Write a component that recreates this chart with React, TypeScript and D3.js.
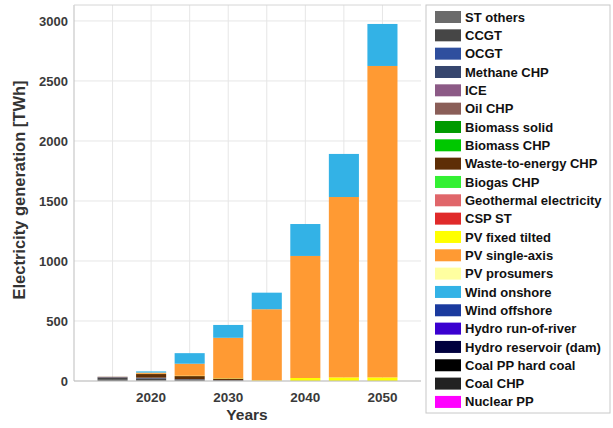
import React from "react";
import * as d3 from "d3";

const years = [2015, 2020, 2025, 2030, 2035, 2040, 2045, 2050];
const xTicks = [2020, 2030, 2040, 2050];
const yTicks = [0, 500, 1000, 1500, 2000, 2500, 3000];

const techNames = [
  "ST others", "CCGT", "OCGT", "Methane CHP", "ICE", "Oil CHP", "Biomass solid",
  "Biomass CHP", "Waste-to-energy CHP", "Biogas CHP", "Geothermal electricity", "CSP ST",
  "PV fixed tilted", "PV single-axis", "PV prosumers", "Wind onshore", "Wind offshore",
  "Hydro run-of-river", "Hydro reservoir (dam)", "Coal PP hard coal", "Coal CHP", "Nuclear PP",
];
const techColors = [
  "#6b6b6b", "#464646", "#2f4f9e", "#36466e", "#8c5a86", "#8a5e58", "#009a00",
  "#00c800", "#5e2e06", "#33f033", "#e0666a", "#e02a2a",
  "#ffff00", "#ff9a33", "#ffffa0", "#33b2e6", "#1a3a9e",
  "#3a00d0", "#00003e", "#000000", "#222222", "#ff00ff",
];

const stOthers = [10, 5, 3, 0, 0, 0, 0, 0];
const ccgt = [15, 15, 10, 5, 0, 0, 0, 0];
const methaneChp = [5, 5, 3, 2, 0, 0, 0, 0];
const oilChp = [3, 3, 0, 0, 0, 0, 0, 0];
const wasteChp = [2, 30, 25, 13, 0, 0, 0, 0];
const pvFixed = [0, 2, 3, 3, 5, 25, 30, 30];
const pvSingle = [0, 10, 100, 337, 593, 1017, 1503, 2595];
const windOnshore = [0, 10, 88, 107, 138, 266, 359, 350];

const zeros = years.map(() => 0);
const seriesValues: Record<string, number[]> = {
  "ST others": stOthers,
  "CCGT": ccgt,
  "Methane CHP": methaneChp,
  "Oil CHP": oilChp,
  "Waste-to-energy CHP": wasteChp,
  "PV fixed tilted": pvFixed,
  "PV single-axis": pvSingle,
  "Wind onshore": windOnshore,
};

const W = 613, H = 428;
const FONT = "'Liberation Sans', Arial, sans-serif";

export default function App() {
  const x = d3.scaleLinear().domain([2010, 2055]).range([74, 421]);
  const y = d3.scaleLinear().domain([0, 3133]).range([381, 5]);
  const barW = (x(2015) - x(2010)) * 0.78;

  const table = years.map((yr, i) => {
    const row: any = { year: yr };
    techNames.forEach((n) => (row[n] = (seriesValues[n] || zeros)[i]));
    return row;
  });
  const stacked = d3.stack<any>().keys(techNames)(table);
  const gridYears = d3.range(2015, 2055, 5);

  const legX = 426, legY = 5, legW = 184, legH = 408;
  const rowH = 18.33;

  return (
    <svg width={W} height={H} style={{ position: "absolute", left: 0, top: 0, background: "#fff" }}>
      <rect x={0} y={0} width={W} height={H} fill="#fff" />
      {/* grid */}
      {gridYears.map((g) => (
        <line key={"gx" + g} x1={x(g)} x2={x(g)} y1={y.range()[1]} y2={y.range()[0]} stroke="#e6e6e6" strokeWidth={1} />
      ))}
      {yTicks.map((t) => (
        <line key={"gy" + t} x1={x(2010)} x2={x(2055)} y1={y(t)} y2={y(t)} stroke="#e6e6e6" strokeWidth={1} />
      ))}
      {/* bars */}
      {stacked.map((s, si) => (
        <g key={s.key} fill={techColors[si]}>
          {s.map((d, i) =>
            d[1] - d[0] > 0 ? (
              <rect key={i} x={x(years[i]) - barW / 2} width={barW} y={y(d[1])} height={y(d[0]) - y(d[1])} />
            ) : null
          )}
        </g>
      ))}
      {/* axes box */}
      <line x1={x(2010)} x2={x(2010)} y1={y.range()[1]} y2={y.range()[0]} stroke="#bdbdbd" />
      <line x1={x(2010)} x2={x(2055)} y1={y(0)} y2={y(0)} stroke="#bdbdbd" />
      <line x1={x(2010)} x2={x(2055)} y1={y.range()[1]} y2={y.range()[1]} stroke="#d6d6d6" />
      {/* y ticks */}
      {yTicks.map((t) => (
        <text key={"ty" + t} x={68} y={y(t)} dy="0.35em" textAnchor="end" fontFamily={FONT} fontSize={13} fontWeight="bold" fill="#3a3a3a">
          {t}
        </text>
      ))}
      {xTicks.map((t) => (
        <text key={"tx" + t} x={x(t)} y={397} dy="0.35em" textAnchor="middle" fontFamily={FONT} fontSize={13.5} fontWeight="bold" fill="#3a3a3a">
          {t}
        </text>
      ))}
      <text x={247} y={415} dy="0.35em" textAnchor="middle" fontFamily={FONT} fontSize={15.5} fontWeight="bold" fill="#333">
        Years
      </text>
      <text transform={`translate(19,${190}) rotate(-90)`} dy="0.35em" textAnchor="middle" fontFamily={FONT} fontSize={16.5} fontWeight="bold" fill="#333">
        Electricity generation [TWh]
      </text>
      {/* legend */}
      <rect x={legX} y={legY} width={legW} height={legH} fill="#fff" stroke="#c8c8c8" />
      {techNames.map((n, i) => (
        <g key={n} transform={`translate(${legX + 9},${17 + i * rowH})`}>
          <rect x={0} y={-6} width={26} height={12} fill={techColors[i]} />
          <text x={30} y={0} dy="0.35em" fontFamily={FONT} fontSize={13} fontWeight="bold" fill="#111">
            {n}
          </text>
        </g>
      ))}
    </svg>
  );
}
